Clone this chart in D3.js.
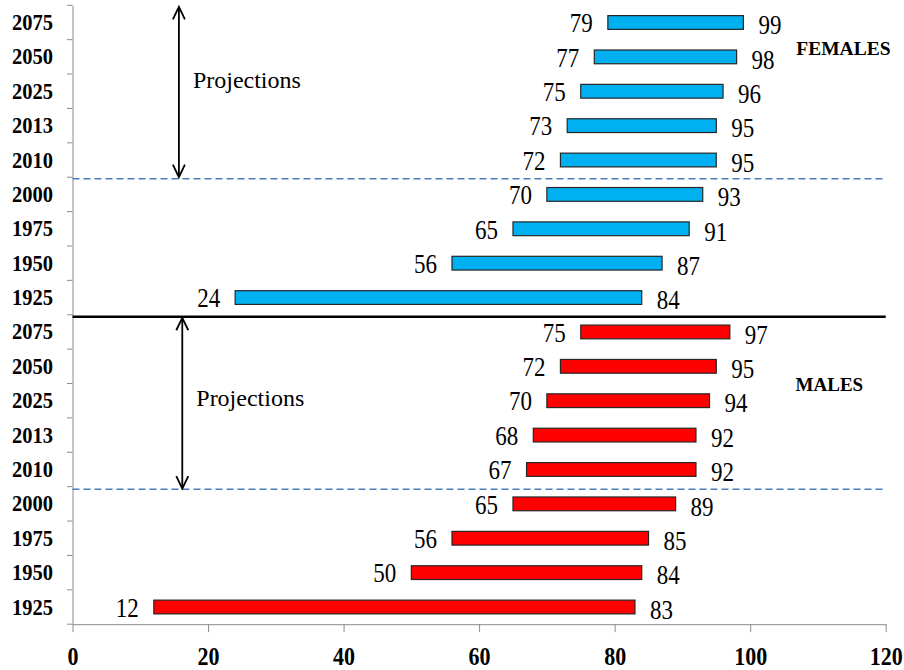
<!DOCTYPE html>
<html>
<head>
<meta charset="utf-8">
<script src="https://cdn.jsdelivr.net/npm/d3@7"></script>
<style>
body { margin: 0; background: #fff; }
text { font-family: "Liberation Serif", "Times New Roman", serif; fill: #000; }
</style>
</head>
<body>
<script>
// data, top row first
const years = ["2075", "2050", "2025", "2013", "2010", "2000", "1975", "1950", "1925"];
const femaleStart = [79, 77, 75, 73, 72, 70, 65, 56, 24];
const femaleEnd   = [99, 98, 96, 95, 95, 93, 91, 87, 84];
const maleStart   = [75, 72, 70, 68, 67, 65, 56, 50, 12];
const maleEnd     = [97, 95, 94, 92, 92, 89, 85, 84, 83];
const xTicks = [0, 20, 40, 60, 80, 100, 120];

// margin and size
let margin = {top: 5.3, right: 18.3, bottom: 45.8, left: 72.5},
    width = 904 - margin.left - margin.right,
    height = 670 - margin.top - margin.bottom;

const sy = 1.15; // chart text is a bit taller than wide in the original

let rows = years.map(d => "F" + d).concat(years.map(d => "M" + d));
let bars = years.map((d, i) => ({key: "F" + d, start: femaleStart[i], end: femaleEnd[i], sex: "F"}))
    .concat(years.map((d, i) => ({key: "M" + d, start: maleStart[i], end: maleEnd[i], sex: "M"})));

let x = d3.scaleLinear().domain([0, 120]).range([0, width]);
let y = d3.scaleBand().domain(rows).range([0, height]).paddingInner(0.6).paddingOuter(0.3);
let color = d3.scaleOrdinal().domain(["F", "M"]).range(["#00b0f0", "#ff0000"]);

let svg = d3.select("body").append("svg")
    .attr("width", 904)
    .attr("height", 670)
    .append("g")
    .attr("transform", "translate(" + margin.left + "," + margin.top + ")");

// boundary between two rows (index i = number of rows above)
const edge = i => i * y.step();

// bottom axis
let xAxis = svg.append("g")
    .attr("transform", "translate(0," + height + ")")
    .call(d3.axisBottom(x).tickValues(xTicks).tickSize(8).tickSizeOuter(0));
xAxis.select(".domain").attr("stroke", "#8c8c8c");
xAxis.selectAll(".tick line").attr("stroke", "#8c8c8c");
xAxis.selectAll(".tick text")
    .attr("y", 0).attr("dy", "0.35em")
    .attr("transform", "translate(0,32) scale(1," + sy + ")")
    .style("font-size", "22px").style("font-weight", "bold");

// left axis, labels at band centers, ticks on the row edges
let yAxis = svg.append("g")
    .call(d3.axisLeft(y).tickSize(0).tickSizeOuter(0).tickPadding(19.5).tickFormat(d => d.slice(1)));
yAxis.select(".domain").attr("stroke", "#8c8c8c");
yAxis.selectAll(".tick text")
    .attr("transform", "scale(1," + sy + ")")
    .style("font-size", "20.5px").style("font-weight", "bold");

svg.append("g").selectAll("line")
    .data(d3.range(rows.length + 1))
    .enter().append("line")
    .attr("x1", -5.5).attr("x2", 0)
    .attr("y1", d => edge(d)).attr("y2", d => edge(d))
    .attr("stroke", "#8c8c8c");

// bars
svg.append("g").selectAll("rect")
    .data(bars)
    .enter().append("rect")
    .attr("x", d => x(d.start))
    .attr("y", d => y(d.key))
    .attr("width", d => x(d.end) - x(d.start))
    .attr("height", y.bandwidth())
    .attr("fill", d => color(d.sex))
    .attr("stroke", "#262626")
    .attr("stroke-width", 1.2);

// value labels
let labels = svg.append("g").style("font-size", "23px");
labels.selectAll(".lo")
    .data(bars)
    .enter().append("text")
    .attr("class", "lo")
    .attr("text-anchor", "end")
    .attr("dy", "0.33em")
    .attr("transform", d => "translate(" + (x(d.start) - 15) + "," + (y(d.key) + y.bandwidth() / 2 + 1) + ") scale(1," + sy + ")")
    .text(d => d.start);
labels.selectAll(".hi")
    .data(bars)
    .enter().append("text")
    .attr("class", "hi")
    .attr("dy", "0.33em")
    .attr("transform", d => "translate(" + (x(d.end) + 15) + "," + (y(d.key) + y.bandwidth() / 2 + 3) + ") scale(1," + sy + ")")
    .text(d => d.end);

// separators
svg.append("line")
    .attr("x1", 0).attr("x2", x(120))
    .attr("y1", edge(9) + 2).attr("y2", edge(9) + 2)
    .attr("stroke", "#000").attr("stroke-width", 2.5);

[edge(5) + 1.5, edge(14) + 2.5].forEach(yy => {
  svg.append("line")
      .attr("x1", 0).attr("x2", x(120))
      .attr("y1", yy).attr("y2", yy)
      .attr("stroke", "#4a7ebb").attr("stroke-width", 1.5)
      .attr("stroke-dasharray", "7,4");
});

// projection arrows
function arrow(xv, y0, y1, textDy) {
  let ax = x(xv);
  let g = svg.append("g").attr("fill", "none").attr("stroke", "#000").attr("stroke-width", 1.8);
  g.append("line").attr("x1", ax).attr("x2", ax).attr("y1", y0).attr("y2", y1);
  g.append("path").attr("d", "M" + (ax - 6) + "," + (y0 + 12.5) + "L" + ax + "," + y0 + "L" + (ax + 6) + "," + (y0 + 12.5));
  g.append("path").attr("d", "M" + (ax - 6) + "," + (y1 - 12.5) + "L" + ax + "," + y1 + "L" + (ax + 6) + "," + (y1 - 12.5));
  svg.append("text")
      .attr("x", ax + 14)
      .attr("y", (y0 + y1) / 2 + textDy)
      .style("font-size", "24px")
      .text("Projections");
}
arrow(15.7, edge(0) + 1.5, edge(5), -4);
arrow(16.2, edge(9) + 3, edge(14) + 2, 3);

// panel titles
svg.append("text")
    .attr("x", x(106.8)).attr("y", y("F2050") + y.bandwidth() / 2 - 2)
    .style("font-size", "19.5px").style("font-weight", "bold")
    .text("FEMALES");
svg.append("text")
    .attr("x", x(106.7)).attr("y", y("M2025") + y.bandwidth() / 2 - 10)
    .style("font-size", "19px").style("font-weight", "bold")
    .text("MALES");
</script>
</body>
</html>
